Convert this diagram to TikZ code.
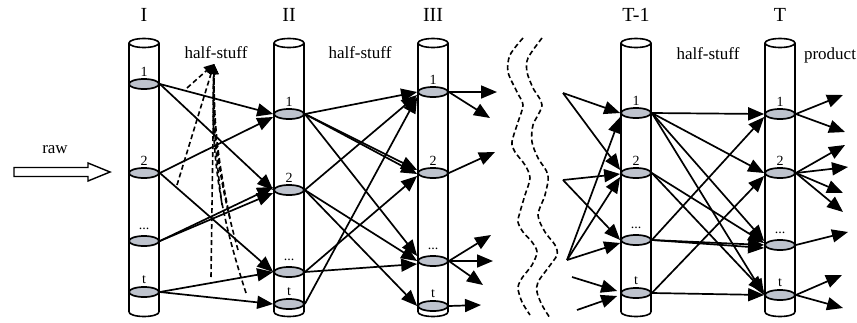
\documentclass[tikz,border=0pt]{standalone}
\usepackage{fontspec}
\setmainfont{Liberation Serif}
\usetikzlibrary{arrows.meta,shapes.geometric,calc}
\definecolor{diskgray}{RGB}{190,195,205}
\newcommand\dotslbl{...}
\begin{document}
\begin{tikzpicture}[x=1pt,y=-1pt,
  disk/.style={ellipse,draw=black,fill=diskgray,line width=1.7pt,minimum width=30pt,minimum height=10pt,inner sep=0pt},
  arr/.style={line width=1.7pt,-{Triangle[length=16pt,width=13pt]}},
  dsh/.style={line width=1.6pt,dash pattern=on 5pt off 3pt},
  dsharr/.style={dsh,-{Triangle[length=10pt,width=9pt]}},
  cyl/.style={line width=1.6pt},
  collabel/.style={font=\fontsize{20}{20}\selectfont,inner sep=0pt},
  txt/.style={font=\fontsize{17}{17}\selectfont,inner sep=0pt},
  num/.style={font=\fontsize{14}{14}\selectfont,inner sep=0pt},
]
\useasboundingbox (0,0) rectangle (857,322);

% cylinders
\foreach \x in {144,289,433,636,780}{
  \draw[cyl] (\x-15,43) -- (\x-15,312);
  \draw[cyl] (\x+15,43) -- (\x+15,312);
  \draw[cyl,fill=white] (\x,43) ellipse (15pt and 4.5pt);
  \draw[cyl] (\x-15,312) arc (180:360:15pt and 4.5pt);
}

% column labels
\node[collabel] (lI) at (144,15) {I};
\node[collabel] (lII) at (289,15) {II};
\node[collabel] (lIII) at (433,15) {III};
\node[collabel] (lP) at (636,15) {T-1};
\node[collabel] (lT) at (780,15) {T};

\node[txt] (hs1) at (216,53) {half-stuff};
\node[txt] (hs2) at (360,53) {half-stuff};
\node[txt] (hs3) at (708,54) {half-stuff};
\node[txt] (prod) at (830,55) {product};
\node[txt] (raw) at (55,150) {raw};

% raw arrow
\draw[line width=1.4pt] (14,167.5) -- (88,167.5) -- (88,163) -- (110,172) -- (88,181) -- (88,176.5) -- (14,176.5) -- cycle;

% disks
\foreach \n/\y/\l in {1/84/1,2/173/2,3/241/\dotslbl,t/292/t}{
  \node[disk] (I\n) at (144,\y) {};
  \node[num] at (144,\y-12) {\l};
}
\foreach \n/\y/\l in {1/114/1,2/190/2,3/272/\dotslbl,t/304/t}{
  \node[disk] (II\n) at (289,\y) {};
  \node[num] at (289,\y-12) {\l};
}
\foreach \n/\y/\l in {1/92/1,2/173/2,3/261/\dotslbl,t/306/t}{
  \node[disk] (III\n) at (433,\y) {};
  \node[num] at (433,\y-12) {\l};
}
\foreach \n/\y/\l in {1/113/1,2/173/2,3/240/\dotslbl,t/293/t}{
  \node[disk] (P\n) at (636,\y) {};
  \node[num] at (636,\y-12) {\l};
}
\foreach \n/\y/\l in {1/114/1,2/173/2,3/245/\dotslbl,t/295/t}{
  \node[disk] (T\n) at (780,\y) {};
  \node[num] at (780,\y-12) {\l};
}

% half-stuff dashed fan
\coordinate (apex) at (214,64);
\coordinate (h1) at (187,88);
\coordinate (h2) at (177,185);
\coordinate (h3) at (211,277);
\coordinate (h4) at (222,205);
\coordinate (h5) at (230,218);
\coordinate (h6) at (238,250);
\coordinate (h7) at (246,293);
\draw[dsharr] (h1) -- (apex);
\draw[dsharr] (h2) -- (apex);
\draw[dsharr] (h3) -- (apex);
\draw[dsharr] (h4) to[bend left=4] (apex);
\draw[dsharr] (h5) to[bend left=6] (apex);
\draw[dsharr] (h6) to[bend left=8] (apex);
\draw[dsharr] (h7) to[bend left=10] (apex);

% I -> II
\draw[arr] (I1.east) -- (II1.west);
\draw[arr] (I1.east) -- (II2.west);
\draw[arr] (I2.east) -- ([yshift=-3pt]II1.west);
\draw[arr] (I2.east) -- (II3.west);
\draw[arr] (I3.east) -- ([yshift=3pt]II2.west);
\draw[arr] (I3.east) -- ([yshift=-3pt]II2.west);
\draw[arr] (It.east) -- (II3.west);
\draw[arr] (It.east) -- (IIt.west);

% II -> III
\draw[arr] (II1.east) -- (III1.west);
\draw[arr] (II1.east) -- ([yshift=3pt]III2.west);
\draw[arr] (II1.east) -- ([yshift=-1pt]III2.west);
\draw[arr] (II1.east) -- ([yshift=5pt]III3.west);
\draw[arr] (II2.east) -- ([yshift=-3pt]III1.west);
\draw[arr] (II2.east) -- (III3.west);
\draw[arr] (II2.east) -- (IIIt.west);
\draw[arr] (II3.east) -- ([yshift=-3pt]III2.west);
\draw[arr] (II3.east) -- ([yshift=-3pt]III3.west);
\draw[arr] (IIt.east) -- ([yshift=-5pt]III1.west);

% III outgoing
\coordinate (o1) at (497,92);
\coordinate (o2) at (490,118);
\coordinate (o3) at (495,152);
\coordinate (o4) at (491,235);
\coordinate (o5) at (493,261);
\coordinate (o6) at (483,285);
\coordinate (o7) at (481,305);
\draw[arr] (III1.east) -- (o1);
\draw[arr] (III1.east) -- (o2);
\draw[arr] (III2.east) -- (o3);
\draw[arr] (III3.east) -- (o4);
\draw[arr] (III3.east) -- (o5);
\draw[arr] (III3.east) -- (o6);
\draw[arr] (IIIt.east) -- (o7);

% wavy separators
\draw[dsh] plot[smooth] coordinates {(523,38) (510,55) (508,72) (517,92) (523,105) (518,122) (512,142) (515,152) (525,165) (530,178) (525,195) (520,212) (518,222) (523,232) (532,242) (537,252) (532,265) (522,278) (518,288) (522,302) (530,315)};
\draw[dsh] plot[smooth] coordinates {(542,38) (528,58) (527,72) (533,88) (542,105) (533,125) (532,142) (538,158) (548,175) (545,195) (538,215) (545,232) (555,245) (557,255) (548,268) (538,282) (537,292) (542,305) (550,318)};

% incoming to T-1
\coordinate (A) at (563,93);
\coordinate (B) at (563,180);
\coordinate (C) at (567,260);
\coordinate (D) at (572,277);
\coordinate (E) at (577,310);
\draw[arr] (A) -- (P1.west);
\draw[arr] (A) -- ([yshift=3pt]P2.west);
\draw[arr] (B) -- ([yshift=-1pt]P2.west);
\draw[arr] (B) -- (P3.west);
\draw[arr] (C) -- ([yshift=-4pt]P1.west);
\draw[arr] (C) -- ([yshift=-4pt]P2.west);
\draw[arr] (C) -- ([yshift=-3pt]P3.west);
\draw[arr] (D) -- ([yshift=2pt,xshift=-3pt]Pt.west);
\draw[arr] (E) -- ([yshift=-3pt,xshift=-3pt]Pt.west);

% T-1 -> T
\draw[arr] (P1.east) -- (T1.west);
\draw[arr] (P1.east) -- (T2.west);
\draw[arr] (P1.east) -- ([yshift=4pt]T3.west);
\draw[arr] (P1.east) -- (Tt.west);
\draw[arr] (P2.east) -- ([yshift=2pt]T3.west);
\draw[arr] (P2.east) -- ([yshift=3pt]Tt.west);
\draw[arr] (P3.east) -- ([yshift=-3pt]T1.west);
\draw[arr] (P3.east) -- ([yshift=0pt]T3.west);
\draw[arr] (P3.east) -- ([yshift=-3pt]T3.west);
\draw[arr] (Pt.east) -- ([yshift=-3pt]T2.west);
\draw[arr] (Pt.east) -- (Tt.west);

% T outgoing
\coordinate (q1) at (843,95);
\coordinate (q2) at (845,132);
\coordinate (q3) at (845,145);
\coordinate (q4) at (848,167);
\coordinate (q5) at (843,193);
\coordinate (q6) at (843,212);
\coordinate (q7) at (848,232);
\coordinate (q8) at (842,275);
\coordinate (q9) at (843,308);
\draw[arr] (T1.east) -- (q1);
\draw[arr] (T1.east) -- (q2);
\draw[arr] (T2.east) -- (q3);
\draw[arr] (T2.east) -- (q4);
\draw[arr] (T2.east) -- (q5);
\draw[arr] (T2.east) -- (q6);
\draw[arr] (T3.east) -- (q7);
\draw[arr] (Tt.east) -- (q8);
\draw[arr] (Tt.east) -- (q9);
\end{tikzpicture}
\end{document}
